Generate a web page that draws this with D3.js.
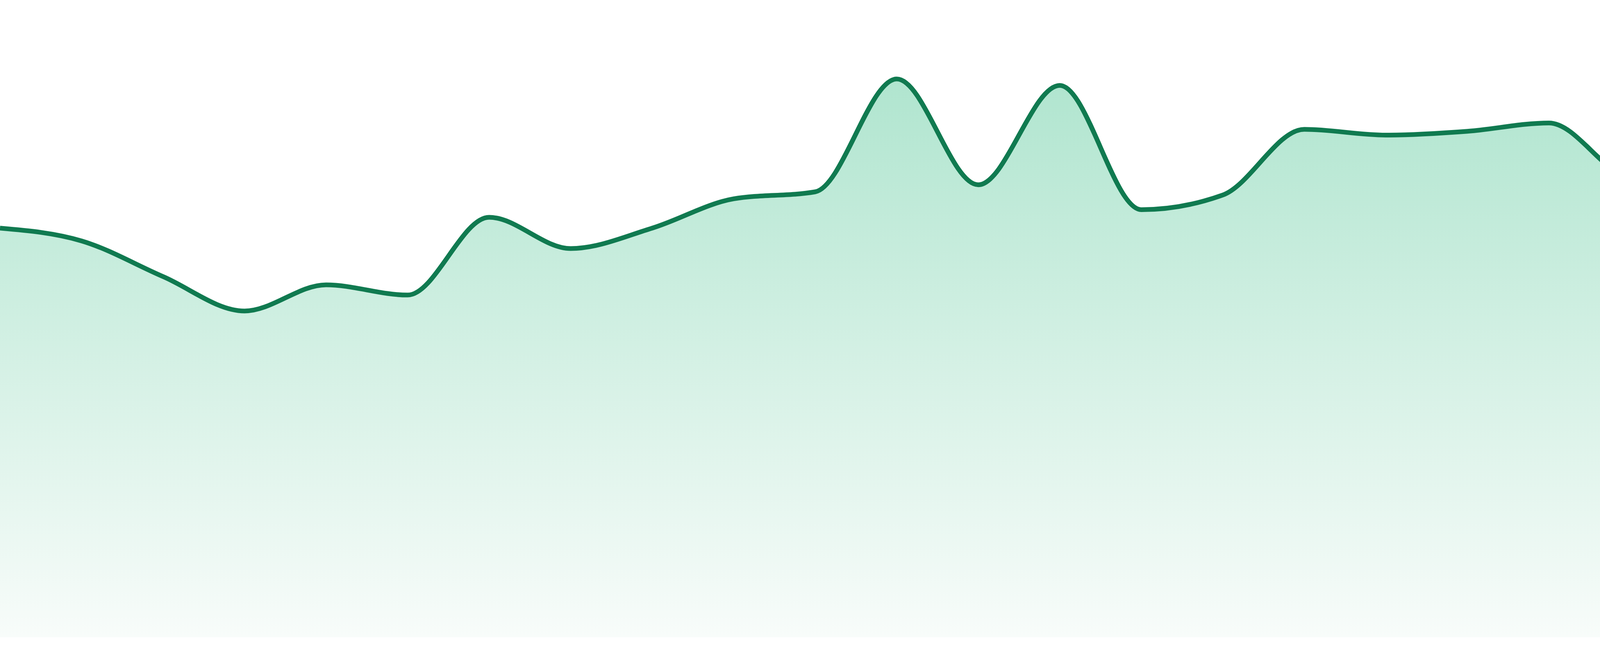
<!DOCTYPE html>
<html>
<head>
<meta charset="utf-8">
<script src="https://cdn.jsdelivr.net/npm/d3@7"></script>
<style>
  html, body { margin: 0; padding: 0; background: #fff; }
  .plot { width: 4800px; height: 1680px; }
</style>
</head>
<body>
<div class="plot"></div>
<script>
// Series values, one per step (no axes shown in the chart)
const steps = d3.range(24);
const values = [
	64.2, 62.2, 56.6, 51.2, 55.3, 53.7, 65.9, 61.0,
	64.2, 68.8, 69.9, 87.6, 71.0, 86.6, 67.1, 69.4,
	79.7, 78.8, 79.4, 80.7, 72.1, 71.2, 85.2, 83.3
];

const data = steps.map((d, i) => ({ step: d, value: values[i] }));

drawArea(data, d3.select('.plot').node());

function drawArea(data, root){

	const w = 4800;
	const h = 1680;
	const baseline = 1632;

	const x = d3.scalePoint()
		.domain(steps)
		.range([0, w]);
	const y = d3.scaleLinear()
		.domain([0, 100])
		.range([baseline, 0]);

	const svg = d3.select(root).append('svg')
		.attr('width', w)
		.attr('height', h)
		.attr('viewBox', `0 0 ${w} ${h}`);

	// Fill gradient, from the highest point down to the baseline
	const grad = svg.append('defs').append('linearGradient')
		.attr('id', 'fillGrad')
		.attr('gradientUnits', 'userSpaceOnUse')
		.attr('x1', 0).attr('x2', 0)
		.attr('y1', y(d3.max(values)))
		.attr('y2', baseline);
	grad.append('stop').attr('offset', 0).attr('stop-color', 'rgb(176,229,207)');
	grad.append('stop').attr('offset', 1).attr('stop-color', 'rgb(248,252,250)');

	const area = d3.area()
		.x(d => x(d.step))
		.y0(baseline)
		.y1(d => y(d.value))
		.curve(d3.curveMonotoneX);

	const line = d3.line()
		.x(d => x(d.step))
		.y(d => y(d.value))
		.curve(d3.curveMonotoneX);

	svg.append('path')
		.datum(data)
		.attr('d', area)
		.attr('fill', 'url(#fillGrad)');

	svg.append('path')
		.datum(data)
		.attr('d', line)
		.attr('fill', 'none')
		.attr('stroke', '#107a50')
		.attr('stroke-width', 12)
		.attr('stroke-linejoin', 'round');
}
</script>
</body>
</html>
